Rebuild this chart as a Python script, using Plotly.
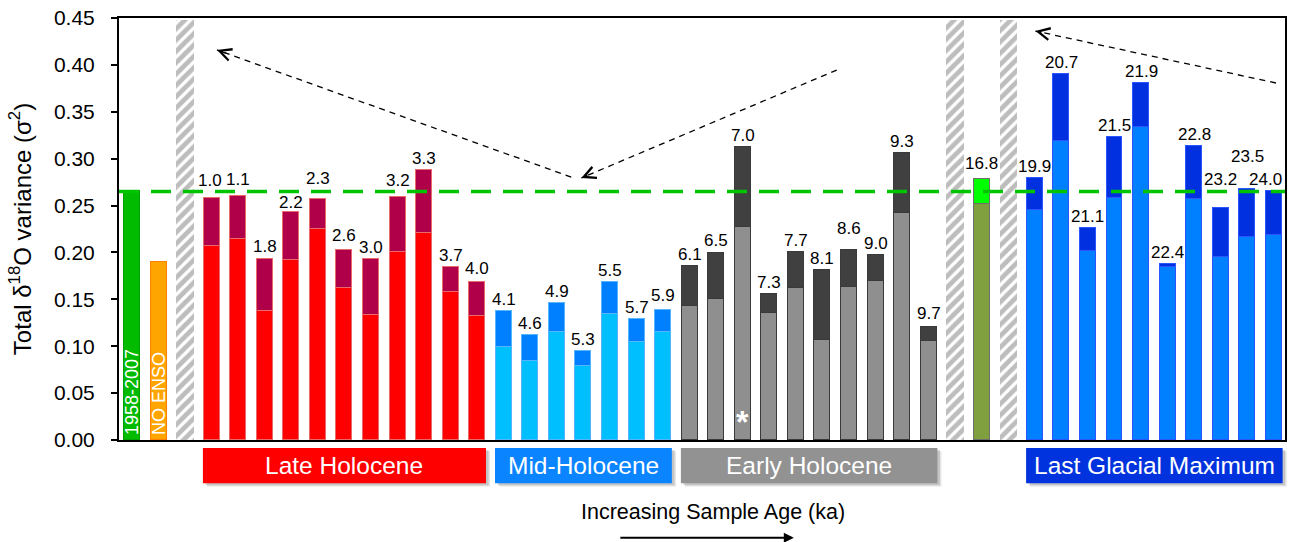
import plotly.graph_objects as go

# ---------------- data ----------------
modern_label = "1958-2007"
modern_value = 0.265
noenso_label = "NO ENSO"
noenso_value = 0.190
instrumental_mean = 0.265

late_ages = ["1.0", "1.1", "1.8", "2.2", "2.3", "2.6", "3.0", "3.2", "3.3", "3.7", "4.0"]
late_total = [0.258, 0.260, 0.193, 0.243, 0.257, 0.203, 0.193, 0.259, 0.288, 0.184, 0.169]
late_base = [0.207, 0.214, 0.138, 0.192, 0.225, 0.162, 0.133, 0.201, 0.221, 0.158, 0.132]

mid_ages = ["4.1", "4.6", "4.9", "5.3", "5.5", "5.7", "5.9"]
mid_total = [0.138, 0.112, 0.146, 0.095, 0.168, 0.129, 0.139]
mid_base = [0.099, 0.084, 0.115, 0.079, 0.134, 0.104, 0.115]

early_ages = ["6.1", "6.5", "7.0", "7.3", "7.7", "8.1", "8.6", "9.0", "9.3", "9.7"]
early_total = [0.186, 0.199, 0.312, 0.156, 0.200, 0.181, 0.203, 0.197, 0.306, 0.121]
early_base = [0.143, 0.150, 0.227, 0.135, 0.162, 0.107, 0.163, 0.170, 0.242, 0.106]

degl_ages = ["16.8"]
degl_total = [0.278]
degl_base = [0.252]

lgm_ages = ["19.9", "20.7", "21.1", "21.5", "21.9", "22.4", "22.8", "23.2", "23.5", "24.0"]
lgm_total = [0.279, 0.390, 0.226, 0.323, 0.381, 0.188, 0.314, 0.247, 0.268, 0.266]
lgm_base = [0.245, 0.319, 0.202, 0.258, 0.334, 0.185, 0.257, 0.195, 0.217, 0.219]

hatch_height = 0.448
starred_age = "7.0"

group_names = ["Late Holocene", "Mid-Holocene", "Early Holocene", "Last Glacial Maximum"]
y_ticks = [0.00, 0.05, 0.10, 0.15, 0.20, 0.25, 0.30, 0.35, 0.40, 0.45]
y_title = "Total δ<sup>18</sup>O variance (σ<sup>2</sup>)"
x_title = "Increasing Sample Age (ka)"

# ---------------- styles ----------------
FONT = "Liberation Sans, Arial, sans-serif"
styles = {
    "late": dict(base="#ff0000", upper="#b0004a", line="#e86a6a"),
    "mid": dict(base="#00bfff", upper="#0080ff", line="#55b5ff"),
    "early": dict(base="#8f8f8f", upper="#404040", line="#3a3a3a"),
    "degl": dict(base="#80a040", upper="#00ff00", line="#6e6e6e"),
    "lgm": dict(base="#0080ff", upper="#0030e0", line="#2a55ff"),
}
box_colors = ["#ff0000", "#0a84ff", "#929292", "#0033dd"]
label_raise_default = 11.5
label_raise = {"1.0": 18, "1.1": 17, "1.8": 13, "2.2": 10, "2.3": 20, "2.6": 14,
               "3.2": 17, "4.0": 13, "5.9": 14, "6.5": 13, "8.6": 21, "9.7": 13,
               "16.8": 16, "23.2": 29, "23.5": 32}
label_xshift = {"24.0": -8, "1.0": -2}

# ---------------- slot layout ----------------
slot = 0
modern_x = slot; slot += 1
noenso_x = slot; slot += 1
hatch_x = [slot]; slot += 1
groups = []
for key, ages, tot, base in [("late", late_ages, late_total, late_base),
                             ("mid", mid_ages, mid_total, mid_base),
                             ("early", early_ages, early_total, early_base)]:
    xs = list(range(slot, slot + len(ages))); slot += len(ages)
    groups.append((key, xs, ages, tot, base))
hatch_x.append(slot); slot += 1
xs = list(range(slot, slot + len(degl_ages))); slot += len(degl_ages)
groups.append(("degl", xs, degl_ages, degl_total, degl_base))
hatch_x.append(slot); slot += 1
xs = list(range(slot, slot + len(lgm_ages))); slot += len(lgm_ages)
groups.append(("lgm", xs, lgm_ages, lgm_total, lgm_base))

x_min, x_max = -0.49, 43.42
BW = 0.6

def xp(s):
    return (s - x_min) / (x_max - x_min)

fig = go.Figure()

# modern and no-ENSO bars
fig.add_trace(go.Bar(x=[modern_x], y=[modern_value], width=BW,
                     marker=dict(color="#00bb00", line=dict(color="#00a000", width=1)),
                     hoverinfo="skip", showlegend=False))
fig.add_trace(go.Bar(x=[noenso_x], y=[noenso_value], width=BW,
                     marker=dict(color="#ffa500", line=dict(color="#ff8000", width=1.5)),
                     hoverinfo="skip", showlegend=False))

# hatched separators
fig.add_trace(go.Bar(x=hatch_x, y=[hatch_height] * len(hatch_x), width=0.66,
                     marker=dict(color="white", line=dict(width=0),
                                 pattern=dict(shape="/", fgcolor="#7c7c7c", bgcolor="white",
                                              size=8, solidity=0.6)),
                     hoverinfo="skip", showlegend=False))

annotations = []
for key, xs, ages, tot, base in groups:
    st = styles[key]
    upper = [t - b for t, b in zip(tot, base)]
    fig.add_trace(go.Bar(x=xs, y=base, width=BW,
                         marker=dict(color=st["base"], line=dict(color=st["line"], width=1)),
                         hoverinfo="skip", showlegend=False))
    fig.add_trace(go.Bar(x=xs, y=upper, width=BW,
                         marker=dict(color=st["upper"], line=dict(color=st["line"], width=1)),
                         hoverinfo="skip", showlegend=False))
    for x, a, t in zip(xs, ages, tot):
        annotations.append(dict(x=x, y=t, xref="x", yref="y", text=a, showarrow=False,
                                yanchor="middle", xanchor="center",
                                yshift=label_raise.get(a, label_raise_default),
                                xshift=label_xshift.get(a, 0),
                                font=dict(family=FONT, size=17, color="black")))
        if a == starred_age:
            annotations.append(dict(x=x, y=0, xref="x", yref="y", text="<b>*</b>",
                                    showarrow=False, yanchor="bottom", yshift=-2,
                                    font=dict(family=FONT, size=32, color="white")))

# vertical labels inside the modern / no-ENSO bars
for x, lab in [(modern_x, modern_label), (noenso_x, noenso_label)]:
    annotations.append(dict(x=x, y=0, xref="x", yref="y", text=lab, textangle=-90,
                            showarrow=False, yanchor="bottom", xanchor="center", yshift=3,
                            font=dict(family=FONT, size=18, color="white")))

shapes = []
# instrumental mean line
shapes.append(dict(type="line", xref="paper", yref="y", x0=0, x1=1,
                   y0=instrumental_mean, y1=instrumental_mean,
                   line=dict(color="#00c400", width=3.5, dash="20px,12px")))

# dashed arrows (tail -> head) in data coordinates
arrows = [((16.54, 0.2804), (3.20, 0.4159)),
          ((26.54, 0.3945), (16.92, 0.2794)),
          ((43.08, 0.3807), (34.02, 0.4361))]
for (tx, ty), (hx, hy) in arrows:
    shapes.append(dict(type="line", xref="x", yref="y", x0=tx, y0=ty, x1=hx, y1=hy,
                       line=dict(color="black", width=1.3, dash="6px,5px")))
    annotations.append(dict(x=hx, y=hy, ax=hx + 0.03 * (tx - hx), ay=hy + 0.03 * (ty - hy),
                            xref="x", yref="y", axref="x", ayref="y", text="",
                            showarrow=True, arrowhead=5, arrowsize=1.8, arrowwidth=1.3,
                            arrowcolor="black"))

# group boxes under the axis
box_top, box_bot = -0.0189, -0.1024
for (key, xs, ages, tot, base), name, col in zip(
        [g for g in groups if g[0] != "degl"], group_names, box_colors):
    x0 = xp(xs[0] - 0.33)
    x1 = min(xp(xs[-1] + 0.33), 1.0)
    for dx, dy, op in [(0.0035, -0.008, 0.10), (0.0022, -0.005, 0.14)]:
        shapes.append(dict(type="rect", xref="paper", yref="paper", x0=x0 + dx, x1=x1 + dx,
                           y0=box_bot + dy, y1=box_top + dy, fillcolor="black", opacity=op,
                           line=dict(width=0), layer="below"))
    shapes.append(dict(type="rect", xref="paper", yref="paper", x0=x0, x1=x1,
                       y0=box_bot, y1=box_top, fillcolor=col, line=dict(width=0)))
    annotations.append(dict(x=(x0 + x1) / 2, y=(box_top + box_bot) / 2, xref="paper", yref="paper",
                            text=name, showarrow=False, xanchor="center", yanchor="middle",
                            font=dict(family=FONT, size=24.5, color="white")))

# x-axis caption and arrow
annotations.append(dict(x=(714 - 119) / 1168, y=-0.170, xref="paper", yref="paper",
                        text=x_title, showarrow=False, xanchor="center", yanchor="middle",
                        font=dict(family=FONT, size=21.5, color="black")))
annotations.append(dict(x=(795 - 119) / 1168, y=-0.2317, xref="paper", yref="paper",
                        ax=-175, ay=0, text="", showarrow=True, arrowhead=2,
                        arrowsize=1, arrowwidth=2, arrowcolor="black"))

fig.update_layout(
    width=1293, height=542,
    margin=dict(l=119, r=6, t=17, b=102),
    barmode="stack", bargap=0,
    plot_bgcolor="white", paper_bgcolor="white",
    font=dict(family=FONT, color="black"),
    shapes=shapes, annotations=annotations,
    showlegend=False,
)
fig.update_xaxes(range=[x_min, x_max], showticklabels=False, ticks="", showgrid=False,
                 zeroline=False, showline=True, linecolor="black", linewidth=2, mirror=True)
fig.update_yaxes(range=[0, 0.45], tickvals=y_ticks, tickformat=".2f", ticks="outside",
                 ticklen=6, tickwidth=1.5, tickcolor="black", showgrid=False, zeroline=False,
                 showline=True, linecolor="black", linewidth=2, mirror=True,
                 tickfont=dict(family=FONT, size=21, color="black"), ticklabelstandoff=12,
                 title=dict(text=y_title, font=dict(family=FONT, size=24, color="black"),
                            standoff=16))

fig.write_html("out.html")
